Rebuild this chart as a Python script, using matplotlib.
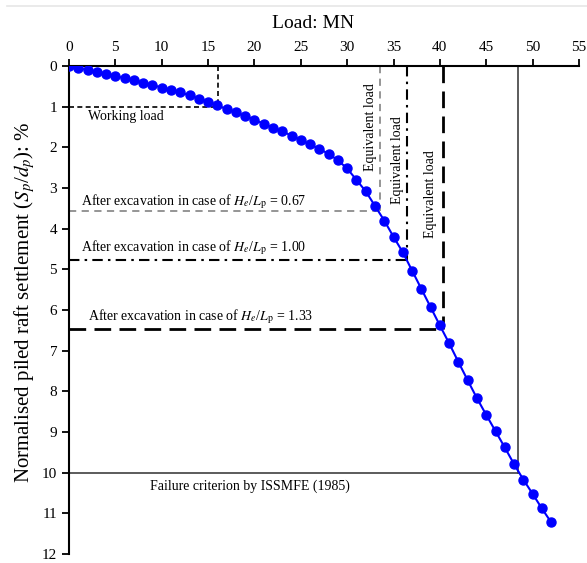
import matplotlib
matplotlib.use('Agg')
import matplotlib.pyplot as plt
from matplotlib.lines import Line2D
import numpy as np

plt.rcParams['font.family'] = ['Liberation Serif', 'DejaVu Serif']
plt.rcParams['mathtext.fontset'] = 'stix'

# Load-settlement curve (load in MN, normalised settlement in %)
load = np.arange(0, 53)
settlement = [0.00, 0.05, 0.10, 0.14, 0.19, 0.25, 0.30, 0.35, 0.41, 0.47,
              0.53, 0.59, 0.65, 0.72, 0.80, 0.88, 0.97, 1.06, 1.14, 1.23,
              1.32, 1.42, 1.52, 1.61, 1.71, 1.82, 1.93, 2.04, 2.16, 2.32,
              2.52, 2.80, 3.08, 3.44, 3.80, 4.20, 4.58, 5.03, 5.48, 5.93,
              6.38, 6.82, 7.28, 7.73, 8.17, 8.58, 8.98, 9.38, 9.79, 10.17,
              10.52, 10.88, 11.22]

# Reference levels (load, settlement)
working_load = (16.1, 1.0)
equiv_067 = (33.5, 3.56)
equiv_100 = (36.5, 4.77)
equiv_133 = (40.3, 6.47)
failure = (48.45, 10.0)

fig = plt.figure(figsize=(5.87, 5.63), dpi=100)
ax = fig.add_axes([0.1175, 0.016, 0.8688, 0.8668])

# faint frame line at the top of the screenshot
fig.add_artist(Line2D([0.012, 1.0], [1 - 6 / 563] * 2, color='#e6e6e6', lw=1.2))

ax.plot(load, settlement, color='#0000ff', lw=1.5, marker='o', ms=6.5, zorder=5)

# Working load
ax.plot([0, working_load[0]], [working_load[1]] * 2, color='black', lw=1.2, dashes=(3, 2))
ax.plot([working_load[0]] * 2, [0, working_load[1]], color='black', lw=1.2, dashes=(3, 2))
# He/Lp = 0.67
ax.plot([0, equiv_067[0]], [equiv_067[1]] * 2, color='#8c8c8c', lw=1.3, dashes=(4, 3))
ax.plot([equiv_067[0]] * 2, [0, equiv_067[1]], color='#8c8c8c', lw=1.3, dashes=(4, 3))
# He/Lp = 1.00
ax.plot([0, equiv_100[0]], [equiv_100[1]] * 2, color='black', lw=1.5, dashes=(5, 2.5, 1.2, 2.5))
ax.plot([equiv_100[0]] * 2, [0, equiv_100[1]], color='black', lw=1.5, dashes=(5, 2.5, 1.2, 2.5))
# He/Lp = 1.33
ax.plot([0, equiv_133[0]], [equiv_133[1]] * 2, color='black', lw=2, dashes=(6, 3))
ax.plot([equiv_133[0]] * 2, [0, equiv_133[1]], color='black', lw=2, dashes=(6, 3))
# Failure criterion
ax.plot([0, failure[0]], [failure[1]] * 2, color='#404040', lw=1.2)
ax.plot([failure[0]] * 2, [0, failure[1]], color='#404040', lw=1.2)

fs = 10
ax.text(2.05, 1.25, 'Working load', fontsize=fs, va='center')
ax.text(1.26, 3.33, r'After excavation in case of $H_e$/$L_\mathrm{p}$ = 0.67', fontsize=fs, va='center')
ax.text(1.26, 4.47, r'After excavation in case of $H_e$/$L_\mathrm{p}$ = 1.00', fontsize=fs, va='center')
ax.text(2.08, 6.17, r'After excavation in case of $H_e$/$L_\mathrm{p}$ = 1.33', fontsize=fs, va='center')
ax.text(8.74, 10.34, 'Failure criterion by ISSMFE (1985)', fontsize=fs, va='center')
ax.text(32.5, 1.49, 'Equivalent load', fontsize=fs, rotation=90, ha='center', va='center')
ax.text(35.4, 2.31, 'Equivalent load', fontsize=fs, rotation=90, ha='center', va='center')
ax.text(39.0, 3.15, 'Equivalent load', fontsize=fs, rotation=90, ha='center', va='center')

ax.set_xlim(0, 55)
ax.set_ylim(12, 0)
ax.set_xticks(np.arange(0, 56, 5))
ax.set_yticks(np.arange(0, 13, 1))
ax.xaxis.tick_top()
ax.xaxis.set_label_position('top')
ax.tick_params(direction='out', length=5, width=1.3, labelsize=11)

for s in ['right', 'bottom']:
    ax.spines[s].set_visible(False)
for s in ['left', 'top']:
    ax.spines[s].set_linewidth(1.5)

ax.set_xlabel('Load: MN', fontsize=14)
ax.xaxis.set_label_coords(0.478, 1.078)
ax.set_ylabel(r'Normalised piled raft settlement ($S_p$/$d_p$): %', fontsize=15)
ax.yaxis.set_label_coords(-0.063, 0.516)

plt.savefig('out.png', dpi=100)
